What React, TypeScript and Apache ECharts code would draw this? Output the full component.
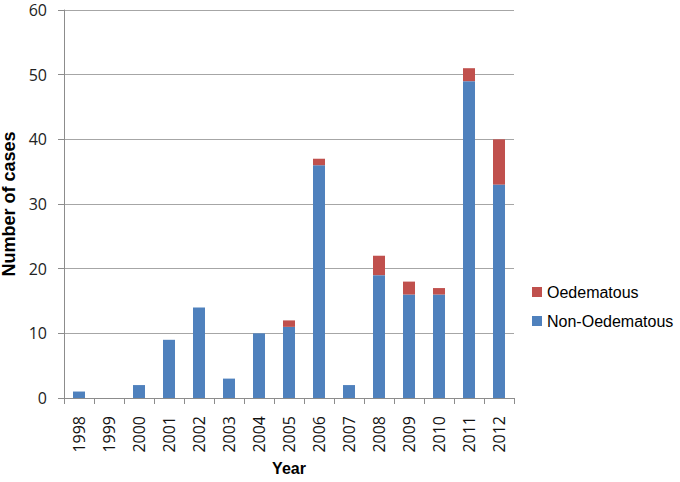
import React, { useEffect, useRef } from "react";
import * as echarts from "echarts";

const years = ["1998","1999","2000","2001","2002","2003","2004","2005","2006","2007","2008","2009","2010","2011","2012"];
const nonOedematous = [1, 0, 2, 9, 14, 3, 10, 11, 36, 2, 19, 16, 16, 49, 33];
const oedematous = [0, 0, 0, 0, 0, 0, 0, 1, 1, 0, 3, 2, 1, 2, 7];

export default function App() {
  const ref = useRef<HTMLDivElement>(null);
  useEffect(() => {
    const chart = echarts.init(ref.current!, null, { renderer: "svg" });
    const axisColor = "#8c8c8c";
    chart.setOption({
      animation: false,
      textStyle: { fontFamily: "Liberation Sans, Arial, sans-serif" },
      grid: { left: 64, top: 10, width: 450, height: 388, containLabel: false, outerBoundsMode: "none" },
      legend: {
        orient: "vertical",
        left: 527,
        top: 279,
        itemWidth: 10,
        itemHeight: 10,
        itemGap: 13,
        icon: "rect",
        textStyle: { fontSize: 16, lineHeight: 16, color: "#000", fontFamily: "Liberation Sans, Arial, sans-serif" },
        data: ["Oedematous", "Non-Oedematous"],
      },
      xAxis: {
        type: "category",
        data: years,
        name: "Year",
        nameLocation: "middle",
        nameGap: 62,
        nameTextStyle: { fontSize: 16, fontWeight: "bold", color: "#000" },
        axisLine: { lineStyle: { color: axisColor } },
        axisTick: { show: true, length: 6, lineStyle: { color: axisColor } },
        axisLabel: { rotate: 90, fontSize: 16, color: "#111", margin: 18, fontFamily: "Open Sans, sans-serif" },
      },
      yAxis: {
        type: "value",
        min: 0,
        max: 60,
        interval: 10,
        name: "Number of cases",
        nameLocation: "middle",
        nameGap: 40,
        nameTextStyle: { fontSize: 18, fontWeight: "bold", color: "#000" },
        axisLine: { show: true, lineStyle: { color: axisColor } },
        axisTick: { show: true, length: 6, lineStyle: { color: axisColor } },
        splitLine: { lineStyle: { color: "#a6a6a6" } },
        axisLabel: { fontSize: 16, color: "#222", margin: 17, fontFamily: "Open Sans, sans-serif" },
      },
      series: [
        {
          name: "Non-Oedematous",
          type: "bar",
          stack: "total",
          barWidth: 12,
          data: nonOedematous,
          itemStyle: { color: "#4F81BD" },
        },
        {
          name: "Oedematous",
          type: "bar",
          stack: "total",
          barWidth: 12,
          data: oedematous,
          itemStyle: { color: "#C0504D" },
        },
      ],
    });
    return () => chart.dispose();
  }, []);
  return <div ref={ref} style={{ position: "fixed", left: 0, top: 0, width: 680, height: 482, background: "#fff" }} />;
}
